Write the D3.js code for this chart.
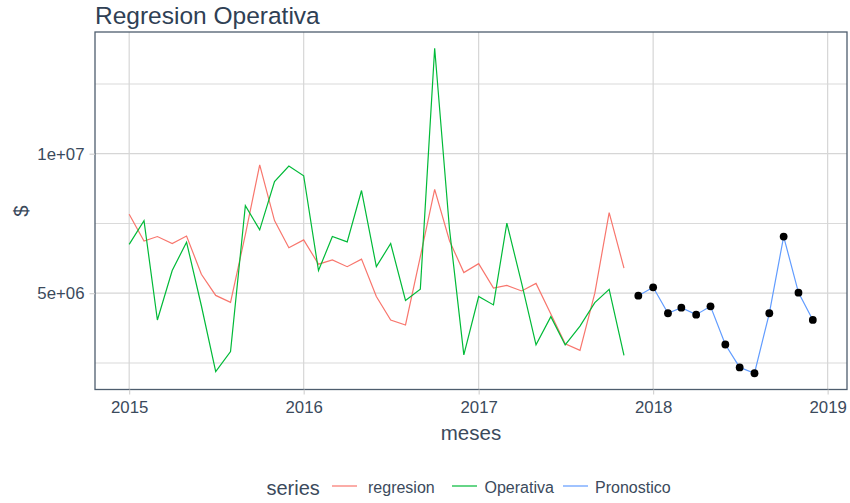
<!DOCTYPE html>
<html>
<head>
<meta charset="utf-8">
<script src="https://cdn.jsdelivr.net/npm/d3@7"></script>
<style>
  html, body { margin: 0; padding: 0; background: #ffffff; }
  svg { display: block; font-family: "Liberation Sans", Arial, sans-serif; }
</style>
</head>
<body>
<svg id="chart" width="850" height="503"></svg>
<script>
// ---- data ----
const monthsHist = [
  "2015-01","2015-02","2015-03","2015-04","2015-05","2015-06","2015-07","2015-08","2015-09","2015-10","2015-11","2015-12",
  "2016-01","2016-02","2016-03","2016-04","2016-05","2016-06","2016-07","2016-08","2016-09","2016-10","2016-11","2016-12",
  "2017-01","2017-02","2017-03","2017-04","2017-05","2017-06","2017-07","2017-08","2017-09","2017-10","2017-11"
];
const regresion = [
  7.83e6, 6.87e6, 7.03e6, 6.78e6, 7.05e6, 5.68e6, 4.92e6, 4.67e6, 7.10e6, 9.60e6, 7.60e6, 6.63e6,
  6.91e6, 6.04e6, 6.19e6, 5.95e6, 6.22e6, 4.88e6, 4.04e6, 3.86e6, 6.31e6, 8.72e6, 6.88e6, 5.74e6,
  6.06e6, 5.18e6, 5.28e6, 5.08e6, 5.35e6, 4.25e6, 3.19e6, 2.95e6, 5.00e6, 7.89e6, 5.90e6
];
const operativa = [
  6.75e6, 7.60e6, 4.04e6, 5.81e6, 6.83e6, 4.55e6, 2.19e6, 2.91e6, 8.14e6, 7.27e6, 9.00e6, 9.56e6,
  9.21e6, 5.81e6, 7.03e6, 6.84e6, 8.68e6, 5.95e6, 6.78e6, 4.74e6, 5.14e6, 13.78e6, 7.30e6, 2.79e6,
  4.88e6, 4.58e6, 7.51e6, 5.35e6, 3.15e6, 4.16e6, 3.15e6, 3.82e6, 4.66e6, 5.14e6, 2.77e6
];
const monthsFc = [
  "2017-12","2018-01","2018-02","2018-03","2018-04","2018-05","2018-06","2018-07","2018-08","2018-09","2018-10","2018-11","2018-12"
];
const pronostico = [
  4.91e6, 5.21e6, 4.28e6, 4.48e6, 4.23e6, 4.53e6, 3.16e6, 2.34e6, 2.13e6, 4.28e6, 7.03e6, 5.02e6, 4.04e6
];
const yMajor = [5e6, 1e7];
const yMajorLabels = ["5e+06", "1e+07"];
const yMinor = [2.5e6, 7.5e6, 12.5e6];
const xTickYears = ["2015", "2016", "2017", "2018", "2019"];
const seriesNames = ["regresion", "Operativa", "Pronostico"];
const seriesColors = ["#F8766D", "#00BA38", "#619CFF"];

// ---- layout ----
const svg = d3.select("#chart");
const P = { left: 95, right: 847, top: 32, bottom: 389.5 };
const textCol = "#3b4a5c";
const parse = d3.timeParse("%Y-%m");

const allDates = monthsHist.concat(monthsFc).map(parse);
const dExt = d3.extent(allDates);
const dSpan = dExt[1] - dExt[0];
const x = d3.scaleTime()
  .domain([new Date(+dExt[0] - 0.05 * dSpan), new Date(+dExt[1] + 0.05 * dSpan)])
  .range([P.left, P.right]);

const allVals = regresion.concat(operativa, pronostico);
const vExt = d3.extent(allVals);
const vSpan = vExt[1] - vExt[0];
const y = d3.scaleLinear()
  .domain([vExt[0] - 0.05 * vSpan, vExt[1] + 0.05 * vSpan])
  .range([P.bottom, P.top]);

// grid
const grid = svg.append("g");
grid.selectAll("line.hmin").data(yMinor).join("line")
  .attr("x1", P.left).attr("x2", P.right)
  .attr("y1", d => y(d)).attr("y2", d => y(d))
  .attr("stroke", "#dadada").attr("stroke-width", 1.1);
grid.selectAll("line.hmaj").data(yMajor).join("line")
  .attr("x1", P.left).attr("x2", P.right)
  .attr("y1", d => y(d)).attr("y2", d => y(d))
  .attr("stroke", "#d6d6d6").attr("stroke-width", 1.2);
const yearDates = xTickYears.map(s => d3.timeParse("%Y")(s));
grid.selectAll("line.v").data(yearDates).join("line")
  .attr("x1", d => x(d)).attr("x2", d => x(d))
  .attr("y1", P.top).attr("y2", P.bottom)
  .attr("stroke", "#d6d6d6").attr("stroke-width", 1.2);

// lines
const line = d3.line().x(d => x(d[0])).y(d => y(d[1]));
const histDates = monthsHist.map(parse);
const fcDates = monthsFc.map(parse);
svg.append("path").datum(histDates.map((d, i) => [d, regresion[i]]))
  .attr("d", line).attr("fill", "none").attr("stroke", seriesColors[0]).attr("stroke-width", 1.2);
svg.append("path").datum(histDates.map((d, i) => [d, operativa[i]]))
  .attr("d", line).attr("fill", "none").attr("stroke", seriesColors[1]).attr("stroke-width", 1.2);
svg.append("path").datum(fcDates.map((d, i) => [d, pronostico[i]]))
  .attr("d", line).attr("fill", "none").attr("stroke", seriesColors[2]).attr("stroke-width", 1.2);
svg.append("g").selectAll("circle").data(fcDates.map((d, i) => [d, pronostico[i]])).join("circle")
  .attr("cx", d => x(d[0])).attr("cy", d => y(d[1])).attr("r", 3.9).attr("fill", "#000");

// panel border
svg.append("rect")
  .attr("x", P.left).attr("y", P.top)
  .attr("width", P.right - P.left).attr("height", P.bottom - P.top)
  .attr("fill", "none").attr("stroke", "#4e5d6e").attr("stroke-width", 1.3);

// y axis
const yAxis = d3.axisLeft(y).tickValues(yMajor)
  .tickFormat((d, i) => yMajorLabels[i]).tickSize(5.5).tickPadding(5);
const gy = svg.append("g").attr("transform", `translate(${P.left},0)`).call(yAxis);
gy.select(".domain").remove();
gy.selectAll(".tick line").attr("stroke", "#cfcfcf").attr("stroke-width", 1.1);
gy.selectAll(".tick text").attr("fill", textCol).attr("font-size", 16.8)
  .attr("font-family", "Liberation Sans, Arial, sans-serif");

// x axis
const xAxis = d3.axisBottom(x).tickValues(yearDates)
  .tickFormat((d, i) => xTickYears[i]).tickSize(5).tickPadding(7);
const gx = svg.append("g").attr("transform", `translate(0,${P.bottom})`).call(xAxis);
gx.select(".domain").remove();
gx.selectAll(".tick line").attr("stroke", "#cfcfcf").attr("stroke-width", 1.1);
gx.selectAll(".tick text").attr("fill", textCol).attr("font-size", 16.8)
  .attr("font-family", "Liberation Sans, Arial, sans-serif");

// titles
svg.append("text").attr("x", P.left).attr("y", 23.5)
  .attr("font-size", 24.5).attr("fill", "#2f4054").text("Regresion Operativa");
svg.append("text").attr("x", (P.left + P.right) / 2).attr("y", 439.5)
  .attr("text-anchor", "middle").attr("font-size", 20.5).attr("fill", textCol).text("meses");
svg.append("text").attr("transform", "translate(28,211) rotate(-90)")
  .attr("text-anchor", "middle").attr("font-size", 20.5).attr("fill", textCol).text("$");

// legend
const lg = svg.append("g");
const ly = 486;
const keyX = [332, 452, 563];
const labX = [368, 484.5, 595];
lg.append("text").attr("x", 266.5).attr("y", ly + 8.5)
  .attr("font-size", 20).attr("fill", textCol).text("series");
seriesNames.forEach((name, i) => {
  lg.append("line").attr("x1", keyX[i]).attr("x2", keyX[i] + 25).attr("y1", ly).attr("y2", ly)
    .attr("stroke", seriesColors[i]).attr("stroke-width", 1.2);
  lg.append("text").attr("x", labX[i]).attr("y", ly + 7)
    .attr("font-size", 16).attr("fill", textCol).text(name);
});
</script>
</body>
</html>
